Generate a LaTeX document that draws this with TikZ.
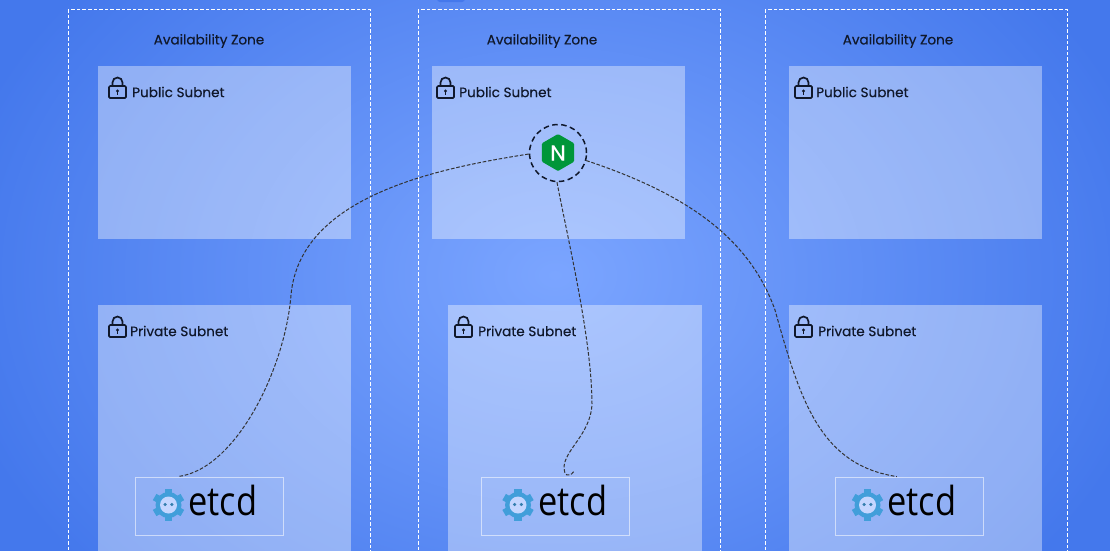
\documentclass[tikz,border=0pt]{standalone}
\usepackage{fontspec}
\setmainfont{Poppins}
\newfontface\medfont{Poppins}[RawFeature={embolden=0.35}]
\newfontfamily\etcdfont{Open Sans}[FakeStretch=0.86]
\usetikzlibrary{shapes.geometric}
\definecolor{bgin}{HTML}{7BA5FF}
\definecolor{bgout}{HTML}{4478EC}
\definecolor{ink}{HTML}{10182B}
\definecolor{etcdblue}{HTML}{419EDA}
\definecolor{nginxgreen}{HTML}{009639}
\tikzset{
  x=1pt,y=-1pt,
  zone/.style={draw=white,line width=0.9pt,dash pattern=on 3.6pt off 2pt},
  subnet/.style={fill=white,fill opacity=0.38,draw=none},
  ztitle/.style={text=ink,font=\medfont\fontsize{13.6}{15}\selectfont,inner sep=0pt},
  stitle/.style={text=ink,font=\medfont\fontsize{13.6}{15}\selectfont,inner sep=0pt,anchor=west},
  etcdbox/.style={draw=white,draw opacity=0.55,line width=0.9pt,minimum width=148.5pt,minimum height=58pt,inner sep=0pt},
  etcdtext/.style={text=black,font=\etcdfont\fontsize{40}{42}\selectfont,inner sep=0pt},
  link/.style={draw=black!80,line width=1pt,dash pattern=on 3.6pt off 1.8pt},
  lockicon/.pic={
    \draw[ink,line width=1.7pt,rounded corners=1.2pt] (0,9) rectangle (17,21);
    \draw[ink,line width=1.7pt] (3.5,9) -- (3.5,5.5) arc[start angle=180,end angle=0,radius=5pt] -- (13.5,9);
    \fill[ink] (8.5,14) circle[radius=1.6pt];
    \fill[ink] (7.8,14) rectangle (9.2,17.5);
  },
  etcdlogo/.pic={
    \fill[etcdblue] (0,0) circle[radius=13pt];
    \foreach \a in {0,60,...,300}{
      \fill[etcdblue,rotate=\a] (-3.6,-16) rectangle (3.6,-10);
    }
    \fill[bgin!45!white] (0,0) circle[radius=8.5pt];
    \fill[etcdblue!80!black] (-3.4,-0.5) circle[radius=1.7pt];
    \fill[etcdblue!80!black] (3.4,-0.5) circle[radius=1.7pt];
  },
}
\begin{document}
\begin{tikzpicture}
\useasboundingbox (0,0) rectangle (1110,550);
\begin{scope}
\clip (0,0) rectangle (1110,550);
\shade[inner color=bgin,outer color=bgout] (-60,-180) rectangle (1170,730);
\fill[fill=bgout,rounded corners=3pt] (437,-6) rectangle (465,2);
% zones
\draw[zone] (68,9) rectangle (370,570);
\draw[zone] (418,9) rectangle (720,570);
\draw[zone] (765,9) rectangle (1067,570);
% subnets
\fill[subnet] (98,66) rectangle (351,239);
\fill[subnet] (432,66) rectangle (685,239);
\fill[subnet] (789,66) rectangle (1042,239);
\fill[subnet] (98,305) rectangle (351,570);
\fill[subnet] (448,305) rectangle (702,570);
\fill[subnet] (789,305) rectangle (1042,570);
\end{scope}
% titles
\node[ztitle] (az1) at (209,41) {Availability Zone};
\node[ztitle] (az2) at (542,41) {Availability Zone};
\node[ztitle] (az3) at (898,41) {Availability Zone};
\node[stitle] (pub1) at (132,92) {Public Subnet};
\node[stitle] (pub2) at (459,92) {Public Subnet};
\node[stitle] (pub3) at (816,92) {Public Subnet};
\node[stitle] (pri1) at (130,331) {Private Subnet};
\node[stitle] (pri2) at (478,331) {Private Subnet};
\node[stitle] (pri3) at (818,331) {Private Subnet};
% locks
\pic at (109,77) {lockicon};
\pic at (437,77) {lockicon};
\pic at (795,77) {lockicon};
\pic at (109,316) {lockicon};
\pic at (455,316) {lockicon};
\pic at (795,316) {lockicon};
% nginx
\node[regular polygon,regular polygon sides=6,fill=nginxgreen,minimum size=37pt,inner sep=0pt,shape border rotate=90,rounded corners=1pt] (hex) at (558,152.5) {};
\node[text=white,font=\medfont\fontsize{22}{22}\selectfont,inner sep=0pt] (nlabel) at (558,153) {N};
\node[circle,draw=ink,line width=1.5pt,dash pattern=on 5.5pt off 3.5pt,minimum size=57pt,inner sep=0pt] (nginx) at (558,153) {};
% etcd boxes
\node[etcdbox] (e1) at (209.5,506) {};
\node[etcdbox] (e2) at (555.5,506) {};
\node[etcdbox] (e3) at (909.5,506) {};
\node[etcdtext,anchor=base west] (t1) at (188,515) {etcd};
\node[etcdtext,anchor=base west] (t2) at (538,515) {etcd};
\node[etcdtext,anchor=base west] (t3) at (887,515) {etcd};
\pic at (168.5,505) {etcdlogo};
\pic at (518,505) {etcdlogo};
\pic at (867.5,505) {etcdlogo};
% connectors
\draw[link] (nginx.182) .. controls (440,168) and (300,195) .. (291,295)
  .. controls (285,370) and (235,470) .. ([xshift=43pt]e1.north west);
\draw[link] (nginx.-92) .. controls (568,240) and (592,340) .. (592,405)
  .. controls (590,435) and (564,450) .. (564,468)
  .. controls (564,474) and (568,479) .. ([xshift=93pt,yshift=5pt]e2.north west);
\draw[link] (nginx.-15) .. controls (690,195) and (750,240) .. (775,310)
  .. controls (800,400) and (820,465) .. ([xshift=62pt]e3.north west);
\end{tikzpicture}
\end{document}
